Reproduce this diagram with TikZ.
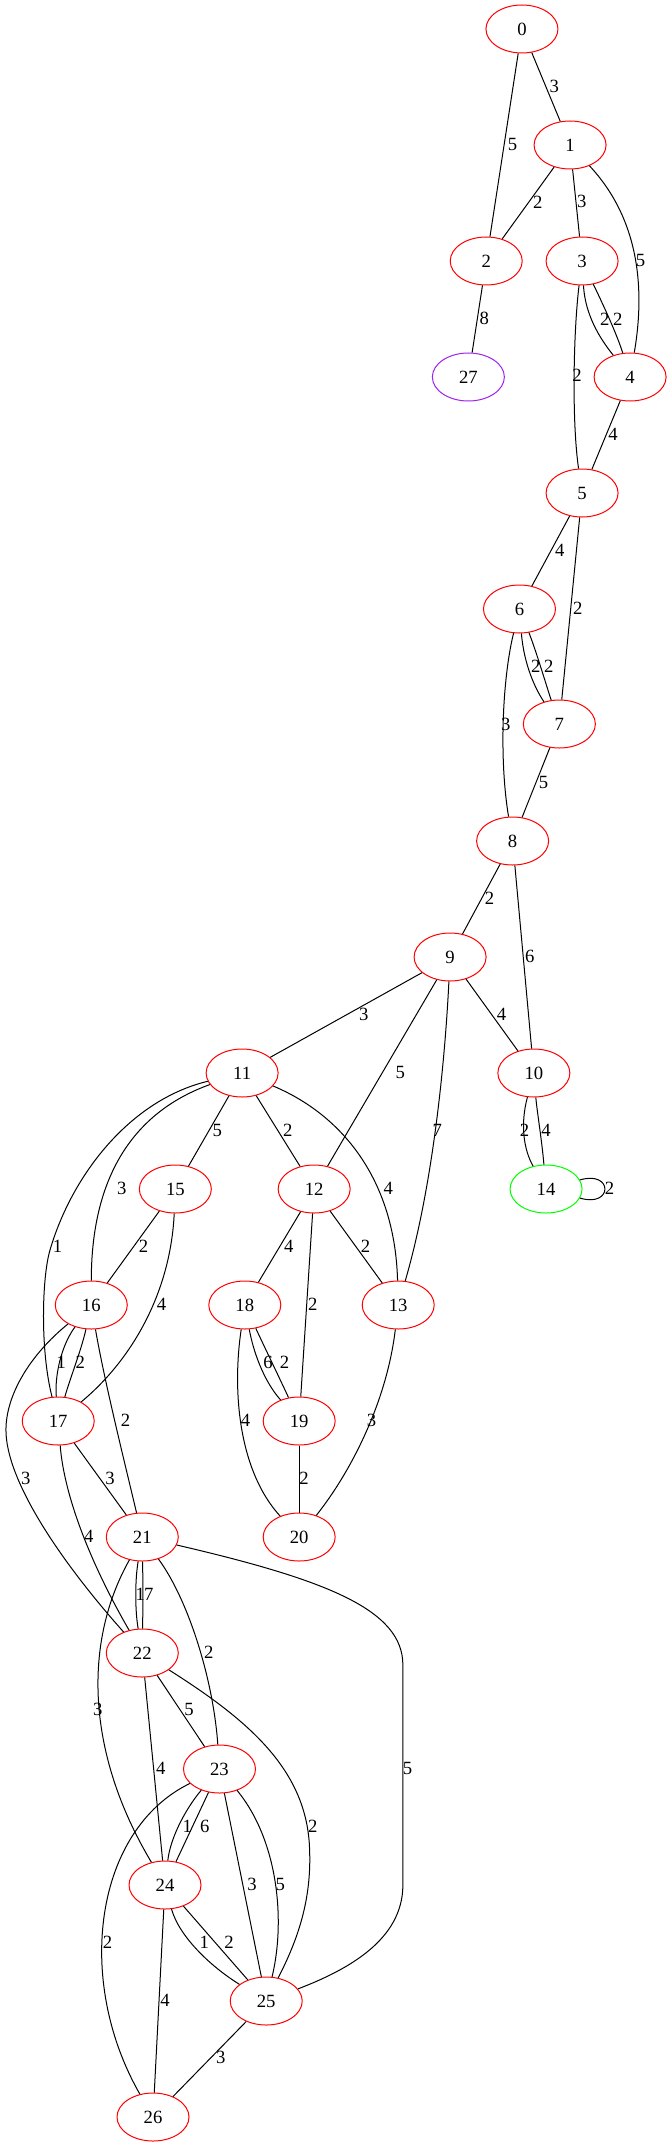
\documentclass[tikz,border=0pt]{standalone}
\usepackage{fontspec}
\setmainfont{Liberation Serif}
\usetikzlibrary{shapes.geometric}
\definecolor{gvred}{RGB}{255,0,0}
\definecolor{gvpurple}{RGB}{160,32,240}
\definecolor{gvgreen}{RGB}{0,255,0}
\begin{document}
\begin{tikzpicture}[x=0.74422pt,y=-0.75pt,
  vtx/.style={ellipse,draw=gvred,line width=0.75pt,minimum width=54pt,minimum height=36pt,inner sep=0pt,font=\fontsize{14}{16}\selectfont},
  lab/.style={inner sep=0pt,font=\fontsize{14}{16}\selectfont},
  link/.style={line width=0.75pt,draw=black}]
\useasboundingbox (0,0) rectangle (677.2,2147);
% nodes
\node[vtx] (n0) at (526,29) {0};
\node[vtx] (n1) at (574.5,145) {1};
\node[vtx] (n2) at (490,261) {2};
\node[vtx] (n3) at (586.6,261) {3};
\node[vtx] (n4) at (635,377) {4};
\node[vtx,draw=gvpurple] (n27) at (472,377) {27};
\node[vtx] (n5) at (586.6,493) {5};
\node[vtx] (n6) at (523.5,609) {6};
\node[vtx] (n7) at (563.7,724) {7};
\node[vtx] (n8) at (516.6,841) {8};
\node[vtx] (n9) at (453.6,957) {9};
\node[vtx] (n10) at (538,1073) {10};
\node[vtx] (n11) at (244,1073) {11};
\node[vtx,draw=gvgreen] (n14) at (550.3,1189) {14};
\node[vtx] (n15) at (176.7,1189) {15};
\node[vtx] (n12) at (316.6,1189) {12};
\node[vtx] (n16) at (92,1305) {16};
\node[vtx] (n18) at (246.7,1305) {18};
\node[vtx] (n13) at (401.3,1305) {13};
\node[vtx] (n17) at (58.7,1421) {17};
\node[vtx] (n19) at (301.5,1421) {19};
\node[vtx] (n21) at (143.4,1537) {21};
\node[vtx] (n20) at (301.5,1537) {20};
\node[vtx] (n22) at (143.4,1653) {22};
\node[vtx] (n23) at (221.2,1769) {23};
\node[vtx] (n24) at (166.3,1885) {24};
\node[vtx] (n25) at (268.3,2001) {25};
\node[vtx] (n26) at (154.2,2117) {26};
% edges
\draw[link] (n0) -- (n1);
\draw[link] (n0) -- (n2);
\draw[link] (n1) -- (n2);
\draw[link] (n1) -- (n3);
\draw[link] (n1) .. controls (645,220) and (650,290) .. (n4);
\draw[link] (n2) -- (n27);
\draw[link] (n3) .. controls (590,320) and (610,345) .. (n4);
\draw[link] (n3) .. controls (608,305) and (622,335) .. (n4);
\draw[link] (n3) .. controls (578,330) and (576,420) .. (n5);
\draw[link] (n4) -- (n5);
\draw[link] (n5) -- (n6);
\draw[link] (n5) -- (n7);
\draw[link] (n6) .. controls (528,665) and (540,690) .. (n7);
\draw[link] (n6) .. controls (540,650) and (552,690) .. (n7);
\draw[link] (n6) .. controls (506,680) and (503,760) .. (n8);
\draw[link] (n7) -- (n8);
\draw[link] (n8) -- (n9);
\draw[link] (n8) -- (n10);
\draw[link] (n9) -- (n11);
\draw[link] (n9) -- (n12);
\draw[link] (n9) .. controls (449,1050) and (438,1180) .. (n13);
\draw[link] (n9) -- (n10);
\draw[link] (n11) -- (n15);
\draw[link] (n11) -- (n12);
\draw[link] (n11) .. controls (345,1115) and (398,1180) .. (n13);
\draw[link] (n11) .. controls (140,1110) and (92,1170) .. (n16);
\draw[link] (n11) .. controls (131,1100) and (72.5,1175) .. (50.4,1250) .. controls (42.3,1277) and (40.3,1350) .. (n17);
\draw[link] (n10) .. controls (524,1125) and (528,1150) .. (n14);
\draw[link] (n10) .. controls (541,1110) and (546,1140) .. (n14);
\draw[link] (n14.15) .. controls (618,1170) and (618,1208) .. (n14.-15);
\draw[link] (n15) -- (n16);
\draw[link] (n15) .. controls (172,1290) and (135,1358) .. (n17);
\draw[link] (n12) -- (n18);
\draw[link] (n12) -- (n19);
\draw[link] (n12) -- (n13);
\draw[link] (n16) .. controls (62,1345) and (55,1375) .. (n17);
\draw[link] (n16) .. controls (82,1350) and (70,1380) .. (n17);
\draw[link] (n16) .. controls (105,1380) and (125,1460) .. (n21);
\draw[link] (n16) .. controls (30,1355) and (6,1395) .. (6,1430) .. controls (6,1480) and (60,1560) .. (n22);
\draw[link] (n18) .. controls (255,1350) and (265,1380) .. (n19);
\draw[link] (n18) .. controls (268,1350) and (285,1385) .. (n19);
\draw[link] (n18) .. controls (234,1390) and (240,1470) .. (n20);
\draw[link] (n19) -- (n20);
\draw[link] (n13) .. controls (390,1400) and (355,1470) .. (n20);
\draw[link] (n17) -- (n21);
\draw[link] (n17) .. controls (65,1500) and (95,1570) .. (n22);
\draw[link] (n21) .. controls (136,1580) and (136,1610) .. (n22);
\draw[link] (n21) .. controls (144,1580) and (144,1610) .. (n22);
\draw[link] (n21) .. controls (190,1600) and (215,1680) .. (n23);
\draw[link] (n21) .. controls (85,1640) and (85,1750) .. (n24);
\draw[link] (n21) .. controls (330,1580) and (406,1610) .. (406,1665) -- (406,1885) .. controls (406,1940) and (350,1970) .. (n25);
\draw[link] (n22) -- (n23);
\draw[link] (n22) -- (n24);
\draw[link] (n22) .. controls (250,1720) and (310,1770) .. (312,1850) .. controls (314,1900) and (300,1940) .. (n25);
\draw[link] (n23) .. controls (190,1805) and (172,1835) .. (n24);
\draw[link] (n23) -- (n24);
\draw[link] (n23) -- (n25);
\draw[link] (n23) .. controls (280,1840) and (288,1920) .. (n25);
\draw[link] (n23) .. controls (95,1830) and (75,1980) .. (n26);
\draw[link] (n24) .. controls (180,1935) and (210,1965) .. (n25);
\draw[link] (n24) -- (n25);
\draw[link] (n24) -- (n26);
\draw[link] (n25) -- (n26);
% labels
\node[lab] (l0a) at (558.5,86) {3};
\node[lab] (l0b) at (516.6,144.3) {5};
\node[lab] (l1a) at (542,202.3) {2};
\node[lab] (l1b) at (586.2,201.7) {3};
\node[lab] (l1c) at (645.4,260) {5};
\node[lab] (l2a) at (488,318.3) {8};
\node[lab] (l3a) at (609.5,319) {2};
\node[lab] (l3b) at (622.5,319) {2};
\node[lab] (l3c) at (581.4,375.7) {2};
\node[lab] (l4a) at (617.7,434) {4};
\node[lab] (l5a) at (564.1,550.7) {4};
\node[lab] (l5b) at (582.3,608.3) {2};
\node[lab] (l6a) at (540,666) {2};
\node[lab] (l6b) at (553,666) {2};
\node[lab] (l6c) at (509.7,724) {3};
\node[lab] (l7a) at (547.7,782) {5};
\node[lab] (l8a) at (493.3,898.3) {2};
\node[lab] (l8b) at (534,956.7) {6};
\node[lab] (l9a) at (366.7,1014) {3};
\node[lab] (l9b) at (505.4,1014) {4};
\node[lab] (l9c) at (403.5,1072) {5};
\node[lab] (l9d) at (440.6,1130) {7};
\node[lab] (l11a) at (219,1130) {5};
\node[lab] (l11b) at (290,1130) {2};
\node[lab] (l10a) at (528.7,1130) {2};
\node[lab] (l10b) at (550.3,1130) {4};
\node[lab] (l11c) at (122.7,1188.3) {3};
\node[lab] (l11d) at (391.4,1188.3) {4};
\node[lab] (l14a) at (614.3,1188.3) {2};
\node[lab] (l11e) at (57.9,1246) {1};
\node[lab] (l15a) at (144.7,1246) {2};
\node[lab] (l12a) at (291,1246) {4};
\node[lab] (l12b) at (368.5,1246) {2};
\node[lab] (l15b) at (162.9,1304.3) {4};
\node[lab] (l12c) at (315.3,1304.3) {2};
\node[lab] (l16a) at (61.8,1362.7) {1};
\node[lab] (l16b) at (80.8,1362.7) {2};
\node[lab] (l18a) at (270,1362.7) {6};
\node[lab] (l18b) at (286.8,1362.7) {2};
\node[lab] (l16c) at (126.6,1420) {2};
\node[lab] (l18c) at (247.5,1420) {4};
\node[lab] (l13a) at (374.5,1420) {3};
\node[lab] (l16d) at (26,1478.3) {3};
\node[lab] (l17a) at (111,1478.3) {3};
\node[lab] (l19a) at (306.3,1478.3) {2};
\node[lab] (l17b) at (89.4,1536.7) {4};
\node[lab] (l21a) at (141.3,1594) {1};
\node[lab] (l21b) at (149.9,1594) {7};
\node[lab] (l21c) at (210.4,1652) {2};
\node[lab] (l21d) at (98.5,1709.3) {3};
\node[lab] (l22a) at (190.5,1709.3) {5};
\node[lab] (l22b) at (162,1768.3) {4};
\node[lab] (l21e) at (410.8,1768.3) {5};
\node[lab] (l23a) at (188.8,1826.7) {1};
\node[lab] (l23b) at (206.5,1826.7) {6};
\node[lab] (l22c) at (315.3,1826) {2};
\node[lab] (l23c) at (254,1884.3) {3};
\node[lab] (l23d) at (282.5,1884.3) {5};
\node[lab] (l23e) at (108.4,1942.3) {2};
\node[lab] (l24a) at (206,1942.3) {1};
\node[lab] (l24b) at (230.7,1942.3) {2};
\node[lab] (l24c) at (166.3,2000) {4};
\node[lab] (l25a) at (222.5,2057.7) {3};
\end{tikzpicture}
\end{document}
